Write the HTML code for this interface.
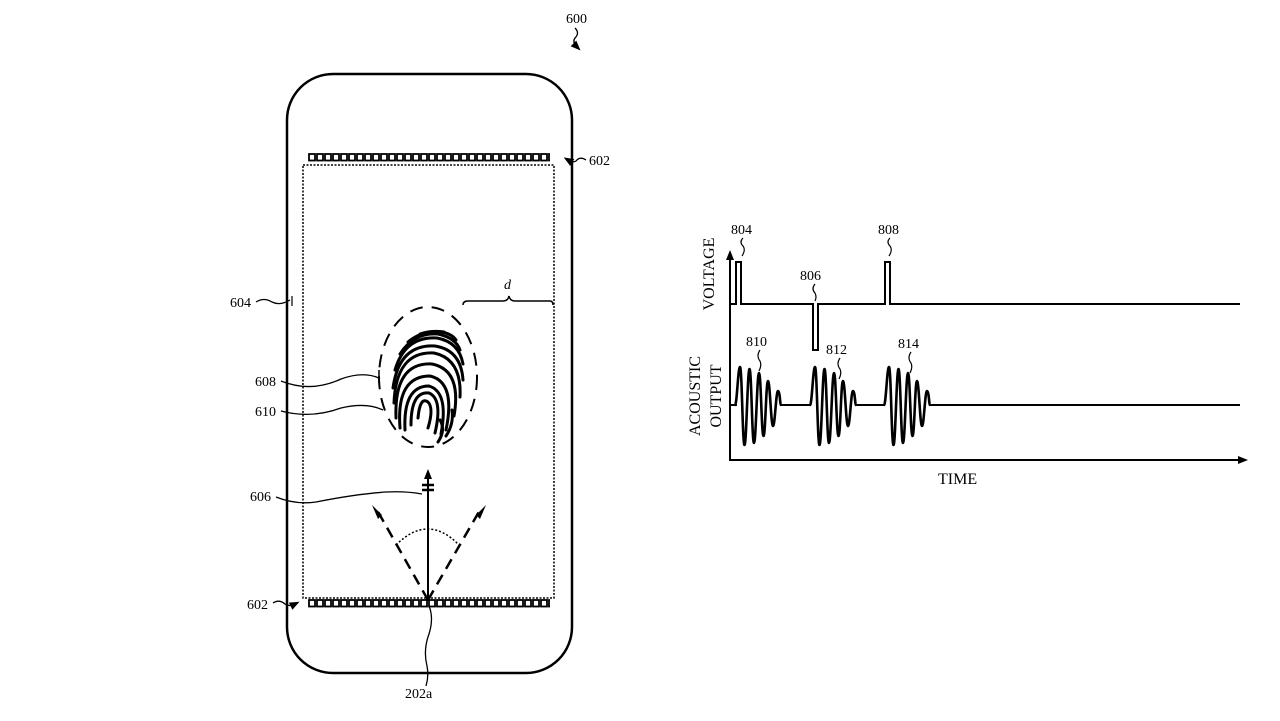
<!DOCTYPE html>
<html><head><meta charset="utf-8"><style>
html,body{margin:0;padding:0;background:#fff;}
svg{display:block;}
text{font-family:"Liberation Serif",serif;fill:#000;}
</style></head><body>
<svg width="1280" height="721" viewBox="0 0 1280 721" xmlns="http://www.w3.org/2000/svg">
<defs>
<pattern id="tr1" x="308" y="153" width="8" height="9" patternUnits="userSpaceOnUse">
<rect x="1" y="1" width="6" height="6.5" fill="none" stroke="#000" stroke-width="1.8"/>
</pattern>
<pattern id="tr2" x="308" y="599" width="8" height="9" patternUnits="userSpaceOnUse">
<rect x="1" y="1" width="6" height="6.5" fill="none" stroke="#000" stroke-width="1.8"/>
</pattern>
<marker id="ah" markerWidth="10" markerHeight="10" refX="5" refY="5" orient="auto" markerUnits="userSpaceOnUse">
<path d="M0,1 L10,5 L0,9 z" fill="#000"/>
</marker>
<g id="burst">
<path fill="none" stroke="#000" stroke-width="2.6" stroke-linejoin="round" d="M0,405 C2,405 3,367 5,367 C7,367 7.5,445 9.5,445 C11.5,445 12.5,369 14.5,369 C16.5,369 17,443 19,443 C21,443 22,373 24,373 C26,373 26.5,436 28.5,436 C30.5,436 31,381 33,381 C35,381 36,426 38,426 C40,426 41,391 43,391 C45,391 45,405 46,405"/>
</g>
</defs>

<text x="566" y="23" font-size="14">600</text>
<path d="M575,28 q5,5 0,10 q-3,4 2,9" fill="none" stroke="#000" stroke-width="1.3" marker-end="url(#ah)"/>

<rect x="287" y="74" width="285" height="599" rx="46" ry="46" fill="none" stroke="#000" stroke-width="2.5"/>
<rect x="308" y="153" width="242" height="9" fill="url(#tr1)"/>
<rect x="308" y="599" width="242" height="9" fill="url(#tr2)"/>
<rect x="303" y="165" width="251" height="433" fill="none" stroke="#000" stroke-width="1.5" stroke-dasharray="2,1.5"/>

<text x="230" y="307" font-size="14">604</text>
<path d="M256,302 q8,-5 16,0 q8,4 18,-2" fill="none" stroke="#000" stroke-width="1.3"/>
<line x1="292" y1="296" x2="292" y2="306" stroke="#000" stroke-width="1.2"/>
<text x="589" y="165" font-size="14">602</text>
<path d="M586,160 q-6,-4 -10,1 q-3,2 -8,-1" fill="none" stroke="#000" stroke-width="1.3" marker-end="url(#ah)"/>
<text x="247" y="609" font-size="14">602</text>
<path d="M273,603 q6,-4 12,1 q4,3 10,0" fill="none" stroke="#000" stroke-width="1.3" marker-end="url(#ah)"/>

<text x="504" y="289" font-size="14" font-style="italic">d</text>
<path d="M463,305 q0,-4 5,-4 L503,301 q5,0 6,-5 q1,5 6,5 L550,301 q3,0 3,4" fill="none" stroke="#000" stroke-width="1.5"/>

<ellipse cx="428" cy="377" rx="49" ry="70" fill="none" stroke="#000" stroke-width="2" stroke-dasharray="13,9"/>
<g fill="none" stroke="#000" stroke-width="3" stroke-linecap="round">
<path d="M418,418 q2,-22 10,-16 q6,6 0,26"/>
<path d="M411,425 q0,-34 18,-32 q14,6 6,40"/>
<path d="M405,430 q-2,-44 24,-44 q20,6 12,48"/>
<path d="M400,428 q-4,-52 30,-52 q26,6 16,54"/>
<path d="M396,418 q-2,-56 36,-54 q30,6 22,52"/>
<path d="M394,403 q2,-52 40,-50 q28,6 26,44"/>
<path d="M393,388 q6,-44 42,-42 q26,4 28,34"/>
<path d="M395,370 q10,-34 42,-32 q22,4 26,26"/>
<path d="M400,354 q14,-22 38,-20 q18,4 22,16"/>
<path d="M408,342 q14,-12 34,-10 q10,2 14,8"/>
<path d="M420,334 q12,-4 24,-2"/>
<path d="M440,420 q6,10 -2,22"/>
<path d="M452,410 q2,14 -6,26"/>
</g>
<text x="255" y="386" font-size="14">608</text>
<path d="M281,381 q30,12 60,-2 q22,-8 38,-1" fill="none" stroke="#000" stroke-width="1.3"/>
<line x1="379" y1="370" x2="379" y2="383" stroke="#000" stroke-width="1.5"/>
<text x="255" y="416" font-size="14">610</text>
<path d="M281,411 q30,8 60,-3 q25,-6 42,2" fill="none" stroke="#000" stroke-width="1.3"/>

<line x1="428" y1="601" x2="428" y2="474" stroke="#000" stroke-width="2" marker-end="url(#ah)"/>
<path d="M422,485 L434,485 M422,490 L434,490" stroke="#000" stroke-width="2.5"/>
<line x1="428" y1="600" x2="377" y2="510" stroke="#000" stroke-width="2.5" stroke-dasharray="11,7"/>
<line x1="428" y1="600" x2="480" y2="510" stroke="#000" stroke-width="2.5" stroke-dasharray="11,7"/>
<path d="M372,505 l6,14 l4,-4 z M486,505 l-6,14 l-4,-4 z" fill="#000"/>
<path d="M396,545 q32,-32 63,0" fill="none" stroke="#000" stroke-width="1.5" stroke-dasharray="2,2"/>
<text x="250" y="501" font-size="14">606</text>
<path d="M276,497 q20,8 40,5 q40,-8 70,-10 q20,-1 36,2" fill="none" stroke="#000" stroke-width="1.3"/>
<path d="M429,606 q5,12 0,28 q-6,16 -2,32 q2,10 -1,20" fill="none" stroke="#000" stroke-width="1.3"/>
<text x="405" y="698" font-size="14">202a</text>

<line x1="730" y1="460" x2="730" y2="255" stroke="#000" stroke-width="2" marker-end="url(#ah)"/>
<line x1="729" y1="460" x2="1243" y2="460" stroke="#000" stroke-width="2" marker-end="url(#ah)"/>
<polyline fill="none" stroke="#000" stroke-width="2" points="730,304 736,304 736,262 741,262 741,304 813,304 813,350 818,350 818,304 885,304 885,262 890,262 890,304 1240,304"/>
<line x1="730" y1="405" x2="737" y2="405" stroke="#000" stroke-width="2"/>
<line x1="780" y1="405" x2="810" y2="405" stroke="#000" stroke-width="2"/>
<line x1="855" y1="405" x2="884" y2="405" stroke="#000" stroke-width="2"/>
<line x1="929" y1="405" x2="1240" y2="405" stroke="#000" stroke-width="2"/>
<use href="#burst" transform="translate(735,0)"/>
<use href="#burst" transform="translate(810,0)"/>
<use href="#burst" transform="translate(884,0)"/>

<text x="731" y="234" font-size="14">804</text>
<path d="M743,238 q-4,4 0,8 q3,4 -1,10" fill="none" stroke="#000" stroke-width="1.2"/>
<text x="800" y="280" font-size="14">806</text>
<path d="M815,284 q-4,5 0,9 q2,4 0,8" fill="none" stroke="#000" stroke-width="1.2"/>
<text x="878" y="234" font-size="14">808</text>
<path d="M890,238 q-4,4 0,8 q3,4 -1,10" fill="none" stroke="#000" stroke-width="1.2"/>
<text x="746" y="346" font-size="14">810</text>
<path d="M760,350 q-4,6 0,11 q2,4 -1,10" fill="none" stroke="#000" stroke-width="1.2"/>
<text x="826" y="354" font-size="14">812</text>
<path d="M840,358 q-4,6 0,11 q2,4 -1,10" fill="none" stroke="#000" stroke-width="1.2"/>
<text x="898" y="348" font-size="14">814</text>
<path d="M911,352 q-4,6 0,11 q2,4 -1,10" fill="none" stroke="#000" stroke-width="1.2"/>

<text transform="translate(714,274) rotate(-90)" font-size="16" text-anchor="middle">VOLTAGE</text>
<text transform="translate(700,396) rotate(-90)" font-size="16" text-anchor="middle">ACOUSTIC</text>
<text transform="translate(721,396) rotate(-90)" font-size="16" text-anchor="middle">OUTPUT</text>
<text x="938" y="484" font-size="16">TIME</text>
</svg>
</body></html>
